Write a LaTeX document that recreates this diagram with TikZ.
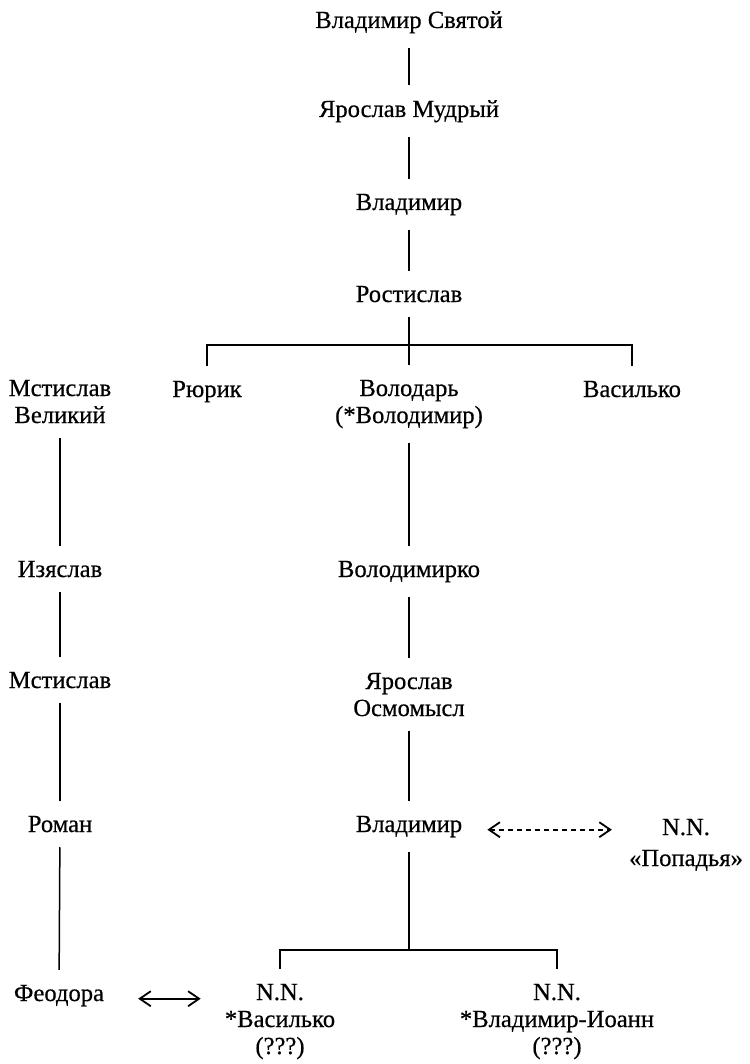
\documentclass[tikz,border=0pt]{standalone}
\usepackage{fontspec}
\setmainfont{Liberation Serif}[FakeBold=0.5]
\usetikzlibrary{arrows.meta}

\begin{document}
\begin{tikzpicture}[x=1pt, y=-1pt, >={Straight Barb[length=11pt,width=15pt]},
    person/.style={anchor=base, align=center, inner sep=0pt, outer ysep=15pt,
      font=\fontsize{24.6}{27}\selectfont},
    link/.style={line width=1.5pt},
    spouse/.style={<->, line width=1.8pt}]
  \useasboundingbox (0,0) rectangle (749,1064);

  % main line (base = last line of a node)
  \node[person] (vlsv) at (409,28) {Владимир Святой};
  \node[person] (yarm) at (409,117) {Ярослав Мудрый};
  \node[person] (vlad) at (409,210) {Владимир};
  \node[person] (rost) at (409,302) {Ростислав};

  \node[person] (mstv) at (60,423) {Мстислав\\Великий};
  \node[person] (ryur) at (207,397) {Рюрик};
  \node[person] (volod) at (409,423) {Володарь\\(*Володимир)};
  \node[person] (vask) at (632,397) {Василько};

  \node[person] (izya) at (60,577) {Изяслав};
  \node[person] (volk) at (409,577) {Володимирко};
  \node[person] (msti) at (60,688) {Мстислав};
  \node[person] (yaros) at (409,716) {Ярослав\\Осмомысл};
  \node[person] (roman) at (60,832) {Роман};
  \node[person] (vlad2) at (409,832) {Владимир};
  \node[person] (popad) at (686,866) {N.N.\\[4pt]«Попадья»};

  \node[person] (feod) at (59,1001) {Феодора};
  \node[person] (nnv) at (280,1054) {N.N.\\*Василько\\(???)};
  \node[person] (nnvi) at (557,1054) {N.N.\\*Владимир-Иоанн\\(???)};

  \coordinate (bus1) at (409,345);
  \coordinate (bus2) at (409,950);

  \draw[link] (vlsv) -- (yarm);
  \draw[link] (yarm) -- (vlad);
  \draw[link] (vlad) -- (rost);
  \draw[link] (rost) -- (volod);
  \draw[link] (ryur) |- (bus1) -| (vask);

  \draw[link] (mstv) -- (izya);
  \draw[link] (izya) -- (msti);
  \draw[link] (msti) -- (roman);
  \draw[link] (roman) -- (feod);

  \draw[link] (volod) -- (volk);
  \draw[link] (volk) -- (yaros);
  \draw[link] (yaros) -- (vlad2);
  \draw[link] (vlad2) -- (bus2);
  \draw[link] (nnv) |- (bus2) -| (nnvi);

  % marriages
  \draw[spouse, dash pattern=on 5pt off 4pt, shorten <=25pt, shorten >=17pt]
    (vlad2.mid east) -- (vlad2.mid east -| popad.west);
  \draw[spouse, shorten <=34pt, shorten >=24pt]
    (feod.mid east) -- (feod.mid east -| nnv.west);
\end{tikzpicture}
\end{document}
